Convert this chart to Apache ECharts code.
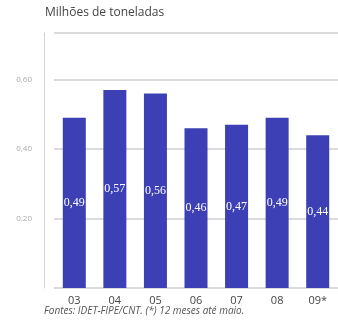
<!DOCTYPE html>
<html>
<head>
<meta charset="utf-8">
<script src="https://cdn.jsdelivr.net/npm/echarts@6/dist/echarts.min.js"></script>
<style>
  html, body { margin: 0; padding: 0; background: #fff; }
  #main { width: 338px; height: 328px; }
</style>
</head>
<body>
<div id="main"></div>
<script>
var anos = ["03", "04", "05", "06", "07", "08", "09*"];
var toneladas = [0.49, 0.57, 0.56, 0.46, 0.47, 0.49, 0.44];
var rotulos = ["0,49", "0,57", "0,56", "0,46", "0,47", "0,49", "0,44"];
var ticksY = { "0.2": "0.20", "0.4": "0,40", "0.6": "0,60" };

var chartDom = document.getElementById("main");
var myChart = echarts.init(chartDom);
var option;

option = {
  animation: false,
  backgroundColor: "#fff",
  title: {
    text: "Milhões de toneladas",
    left: 40,
    top: 2,
    textStyle: {
      fontFamily: "Open Sans",
      fontSize: 12,
      fontWeight: "normal",
      color: "#444",
    },
  },
  graphic: [
    {
      type: "text",
      left: 44,
      top: 306,
      style: {
        text: "Fontes: IDET-FIPE/CNT. (*) 12 meses até maio.",
        font: "italic 10px 'Open Sans'",
        fill: "#555",
      },
    },
  ],
  grid: {
    left: 54,
    right: -3,
    top: 33,
    bottom: 40,
  },
  xAxis: {
    type: "category",
    data: anos,
    axisLine: { show: false },
    axisTick: { show: false },
    axisLabel: {
      color: "#444",
      fontFamily: "Open Sans",
      fontSize: 11,
      margin: 7,
    },
  },
  yAxis: {
    type: "value",
    min: 0,
    max: 0.734,
    interval: 0.2,
    offset: 10,
    axisLine: { show: true, lineStyle: { color: "#d4d4d4", width: 1 } },
    axisTick: { show: false },
    splitLine: { lineStyle: { color: "#cfcfcf", width: 1.5 } },
    axisLabel: {
      showMaxLabel: false,
      color: "#aaa",
      fontFamily: "Open Sans",
      fontSize: 8,
      margin: 12,
      formatter: function (v) {
        var k = String(Math.round(v * 10) / 10);
        return ticksY[k] || "";
      },
    },
  },
  series: [
    {
      type: "bar",
      data: toneladas,
      barWidth: 23,
      itemStyle: { color: "#3c40b4" },
      label: {
        show: true,
        position: "inside",
        color: "#fff",
        fontFamily: "Liberation Sans Narrow",
        fontSize: 12,
        formatter: function (p) {
          return rotulos[p.dataIndex];
        },
      },
    },
  ],
};

option && myChart.setOption(option);
</script>
</body>
</html>
